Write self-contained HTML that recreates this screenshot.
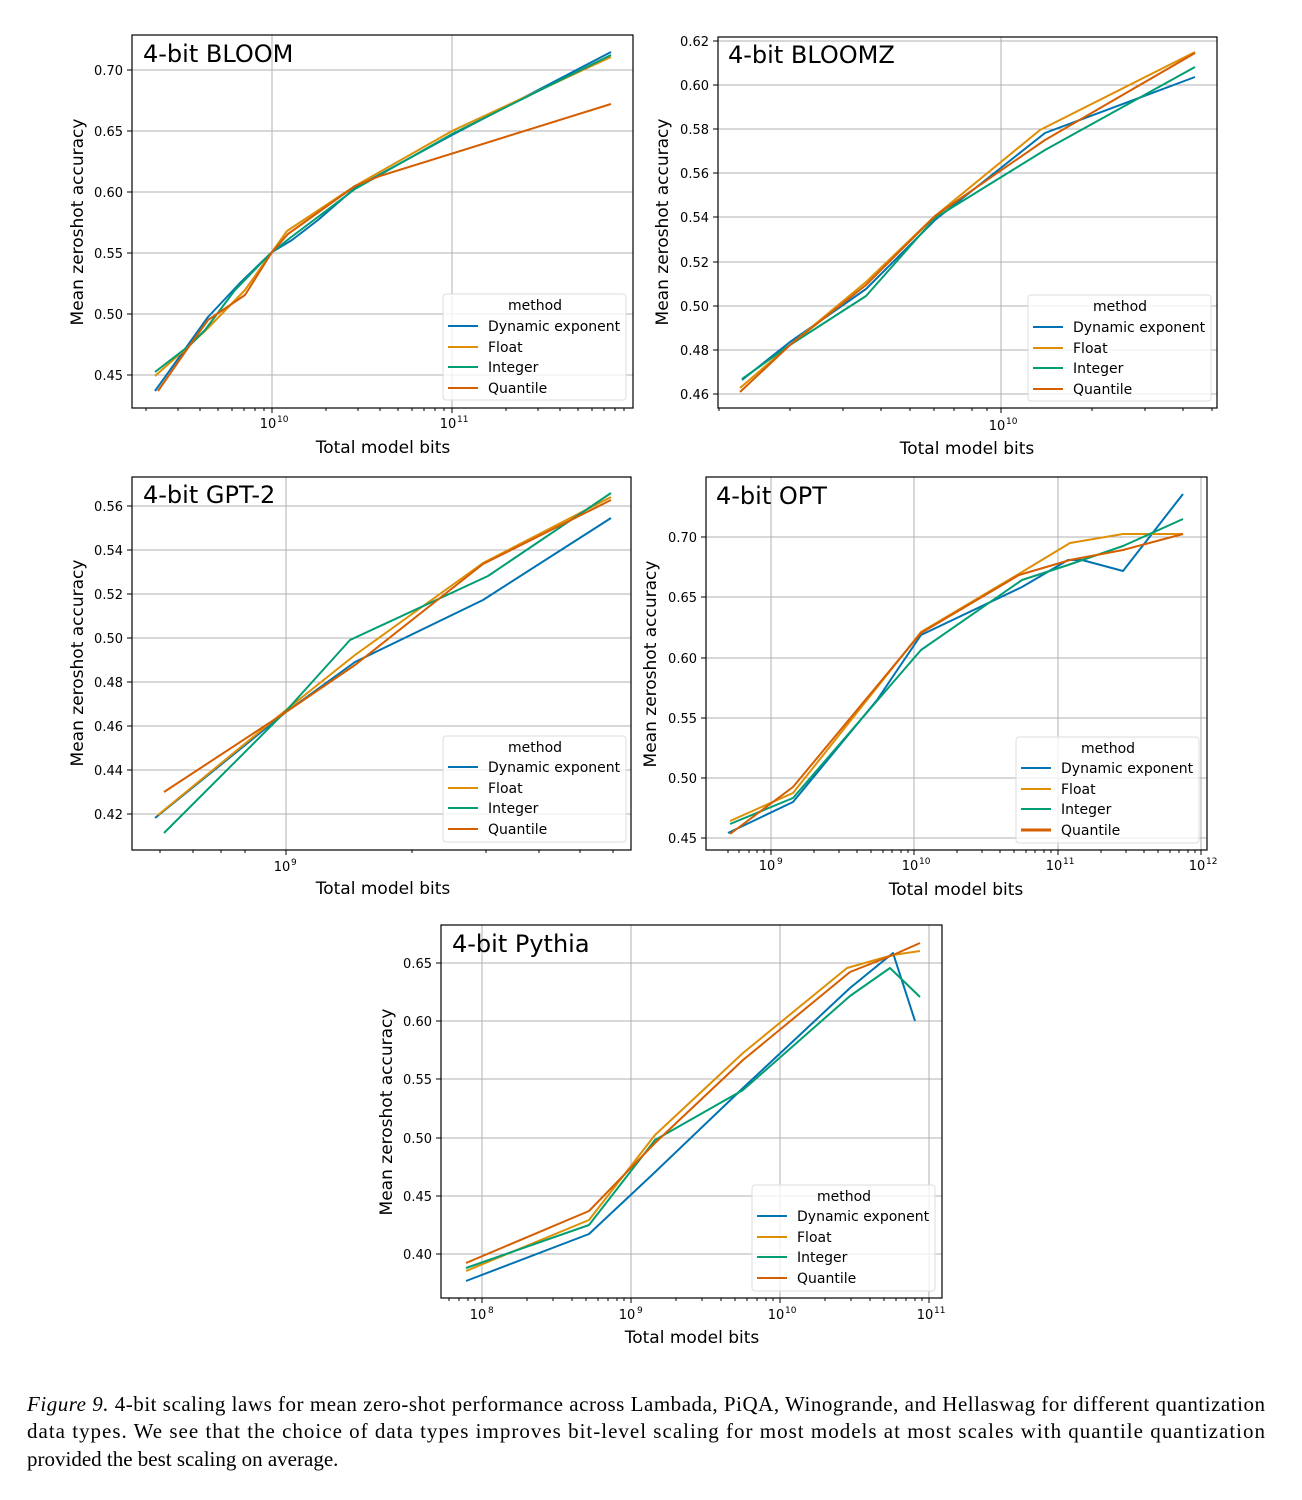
<!DOCTYPE html>
<html><head><meta charset="utf-8"><style>
body{margin:0;background:#fff;}
svg{display:block;font-family:"DejaVu Sans",sans-serif;}
.g{stroke:#b0b0b0;stroke-width:1;}
.ax{fill:none;stroke:#000;stroke-width:1.2;}
.t{font-size:13px;fill:#000;}
.ti{font-size:24px;}
.al{font-size:17px;}
.l{fill:none;stroke-width:2;stroke-linejoin:round;}
.b{stroke:#0173b2}.o{stroke:#de8f05}.gr{stroke:#029e73}.q{stroke:#d55e00}
.lg{fill:#fff;fill-opacity:.8;stroke:#ddd;}
.lt{font-size:14px;}
.tk{stroke:#000;stroke-width:1;fill:none;}
.cap{font-family:"Liberation Serif",serif;font-size:21px;}
</style></head><body>
<svg width="1302" height="1500" viewBox="0 0 1302 1500">
<!-- ========== BLOOM ========== -->
<g>
<path class="g" d="M132 70H633M132 131H633M132 192H633M132 253H633M132 314H633M132 375H633M272 35V408M452 35V408"/>
<polyline class="l b" points="155,391 208,317 240,283 272,252 292,240 318,220 355,188 452,135 611,52"/>
<polyline class="l o" points="155,376 190,345 208,328 245,290 272,252 287,231 355,186 452,131 611,57"/>
<polyline class="l gr" points="155,372 190,345 205,330 235,290 272,252 290,238 355,189 452,134 611,55"/>
<polyline class="l q" points="158,391 190,345 208,320 245,295 272,252 288,234 355,186 380,176 611,104"/>
<rect class="ax" x="132" y="35" width="501" height="373"/>
<path class="tk" d="M272 408v5M452 408v5M146 408v3M178 408v3M200 408v3M218 408v3M232 408v3M244 408v3M255 408v3M264 408v3M326 408v3M358 408v3M380 408v3M398 408v3M412 408v3M424 408v3M435 408v3M444 408v3M506 408v3M538 408v3M560 408v3M578 408v3M592 408v3M604 408v3M615 408v3M624 408v3M127 70h5M127 131h5M127 192h5M127 253h5M127 314h5M127 375h5"/>
<g class="t" text-anchor="end"><text x="123" y="75">0.70</text><text x="123" y="136">0.65</text><text x="123" y="197">0.60</text><text x="123" y="258">0.55</text><text x="123" y="319">0.50</text><text x="123" y="380">0.45</text></g>
<g class="t" text-anchor="middle"><text x="268" y="428">10</text><text x="448" y="428">10</text></g>
<g style="font-size:9px"><text x="277" y="422">10</text><text x="457" y="422">11</text></g>
<text class="ti" x="143" y="62">4-bit BLOOM</text>
<text class="al" x="383" y="453" text-anchor="middle">Total model bits</text>
<text class="al" transform="translate(83,222) rotate(-90)" text-anchor="middle">Mean zeroshot accuracy</text>
<rect class="lg" x="443" y="294" width="183" height="106" rx="3"/>
<text class="lt" x="535" y="310" text-anchor="middle">method</text>
<path class="l b" d="M448 326h30"/><path class="l o" d="M448 347h30"/><path class="l gr" d="M448 367h30"/><path class="l q" d="M448 388h30"/>
<text class="lt" x="488" y="331">Dynamic exponent</text><text class="lt" x="488" y="352">Float</text><text class="lt" x="488" y="372">Integer</text><text class="lt" x="488" y="393">Quantile</text>
</g>
<!-- ========== BLOOMZ ========== -->
<g>
<path class="g" d="M718 41H1217M718 85H1217M718 129H1217M718 173H1217M718 217H1217M718 262H1217M718 306H1217M718 350H1217M718 394H1217M1001 37V408"/>
<polyline class="l b" points="742,380 790,342 866,289 935,220 1045,133 1195,77"/>
<polyline class="l o" points="740,388 790,345 866,282 935,216 1040,130 1195,52"/>
<polyline class="l gr" points="742,379 790,345 866,296 935,218 1045,150 1195,67"/>
<polyline class="l q" points="740,392 790,345 866,285 935,216 1045,140 1195,53"/>
<rect class="ax" x="718" y="37" width="499" height="371"/>
<path class="tk" d="M1001 408v5M719 408v3M790 408v3M843 408v3M881 408v3M910 408v3M934 408v3M954 408v3M972 408v3M987 408v3M1092 408v3M1145 408v3M1183 408v3M1212 408v3M713 41h5M713 85h5M713 129h5M713 173h5M713 217h5M713 262h5M713 306h5M713 350h5M713 394h5"/>
<g class="t" text-anchor="end"><text x="709" y="46">0.62</text><text x="709" y="90">0.60</text><text x="709" y="134">0.58</text><text x="709" y="178">0.56</text><text x="709" y="222">0.54</text><text x="709" y="267">0.52</text><text x="709" y="311">0.50</text><text x="709" y="355">0.48</text><text x="709" y="399">0.46</text></g>
<text class="t" x="997" y="430" text-anchor="middle">10</text><text x="1006" y="424" style="font-size:9px">10</text>
<text class="ti" x="728" y="63">4-bit BLOOMZ</text>
<text class="al" x="967" y="454" text-anchor="middle">Total model bits</text>
<text class="al" transform="translate(668,222) rotate(-90)" text-anchor="middle">Mean zeroshot accuracy</text>
<rect class="lg" x="1028" y="295" width="183" height="106" rx="3"/>
<text class="lt" x="1120" y="311" text-anchor="middle">method</text>
<path class="l b" d="M1033 327h30"/><path class="l o" d="M1033 348h30"/><path class="l gr" d="M1033 368h30"/><path class="l q" d="M1033 389h30"/>
<text class="lt" x="1073" y="332">Dynamic exponent</text><text class="lt" x="1073" y="353">Float</text><text class="lt" x="1073" y="373">Integer</text><text class="lt" x="1073" y="394">Quantile</text>
</g>
<!-- ========== GPT-2 ========== -->
<g>
<path class="g" d="M132 506H631M132 550H631M132 594H631M132 638H631M132 682H631M132 726H631M132 770H631M132 814H631M286 477V850"/>
<polyline class="l b" points="155,818 286,712 355,662 483,600 611,518"/>
<polyline class="l o" points="158,815 286,710 355,655 483,563 611,497"/>
<polyline class="l gr" points="164,833 286,711 350,640 488,576 611,493"/>
<polyline class="l q" points="164,792 286,712 355,665 483,564 611,500"/>
<rect class="ax" x="132" y="477" width="499" height="373"/>
<path class="tk" d="M286 850v5M160 850v3M193 850v3M221 850v3M245 850v3M412 850v3M486 850v3M539 850v3M580 850v3M613 850v3M127 506h5M127 550h5M127 594h5M127 638h5M127 682h5M127 726h5M127 770h5M127 814h5"/>
<g class="t" text-anchor="end"><text x="123" y="511">0.56</text><text x="123" y="555">0.54</text><text x="123" y="599">0.52</text><text x="123" y="643">0.50</text><text x="123" y="687">0.48</text><text x="123" y="731">0.46</text><text x="123" y="775">0.44</text><text x="123" y="819">0.42</text></g>
<text class="t" x="282" y="871" text-anchor="middle">10</text><text x="291" y="865" style="font-size:9px">9</text>
<text class="ti" x="143" y="503">4-bit GPT-2</text>
<text class="al" x="383" y="894" text-anchor="middle">Total model bits</text>
<text class="al" transform="translate(83,663) rotate(-90)" text-anchor="middle">Mean zeroshot accuracy</text>
<rect class="lg" x="443" y="736" width="183" height="106" rx="3"/>
<text class="lt" x="535" y="752" text-anchor="middle">method</text>
<path class="l b" d="M448 767h30"/><path class="l o" d="M448 788h30"/><path class="l gr" d="M448 808h30"/><path class="l q" d="M448 829h30"/>
<text class="lt" x="488" y="772">Dynamic exponent</text><text class="lt" x="488" y="793">Float</text><text class="lt" x="488" y="813">Integer</text><text class="lt" x="488" y="834">Quantile</text>
</g>
<!-- ========== OPT ========== -->
<g>
<path class="g" d="M706 537H1207M706 597H1207M706 658H1207M706 718H1207M706 778H1207M706 838H1207M771 477V850M914 477V850M1058 477V850M1201 477V850"/>
<polyline class="l b" points="728,833 793,802 877,700 921,635 1022,587 1068,560 1082,560 1123,571 1183,494"/>
<polyline class="l o" points="730,821 793,793 921,632 1017,575 1070,543 1123,534 1183,534"/>
<polyline class="l gr" points="730,824 793,798 921,650 1022,580 1068,565 1123,546 1183,519"/>
<polyline class="l q" points="730,834 793,787 921,633 1019,575 1070,560 1123,550 1183,534"/>
<rect class="ax" x="706" y="477" width="501" height="373"/>
<path class="tk" d="M771 850v5M914 850v5M1058 850v5M1201 850v5M728 850v3M739 850v3M749 850v3M757 850v3M764 850v3M814 850v3M839 850v3M857 850v3M871 850v3M883 850v3M892 850v3M901 850v3M908 850v3M957 850v3M982 850v3M1000 850v3M1014 850v3M1026 850v3M1035 850v3M1044 850v3M1051 850v3M1101 850v3M1126 850v3M1144 850v3M1158 850v3M1170 850v3M1179 850v3M1188 850v3M1195 850v3M701 537h5M701 597h5M701 658h5M701 718h5M701 778h5M701 838h5"/>
<g class="t" text-anchor="end"><text x="697" y="542">0.70</text><text x="697" y="602">0.65</text><text x="697" y="663">0.60</text><text x="697" y="723">0.55</text><text x="697" y="783">0.50</text><text x="697" y="843">0.45</text></g>
<g class="t" text-anchor="middle"><text x="767" y="870">10</text><text x="910" y="870">10</text><text x="1054" y="870">10</text><text x="1197" y="870">10</text></g>
<g style="font-size:9px"><text x="777" y="864">9</text><text x="919" y="864">10</text><text x="1063" y="864">11</text><text x="1206" y="864">12</text></g>
<text class="ti" x="716" y="504">4-bit OPT</text>
<text class="al" x="956" y="895" text-anchor="middle">Total model bits</text>
<text class="al" transform="translate(656,664) rotate(-90)" text-anchor="middle">Mean zeroshot accuracy</text>
<rect class="lg" x="1016" y="737" width="183" height="106" rx="3"/>
<text class="lt" x="1108" y="753" text-anchor="middle">method</text>
<path class="l b" d="M1021 768h30"/><path class="l o" d="M1021 789h30"/><path class="l gr" d="M1021 809h30"/><path class="l q" style="stroke-width:3" d="M1021 830h30"/>
<text class="lt" x="1061" y="773">Dynamic exponent</text><text class="lt" x="1061" y="794">Float</text><text class="lt" x="1061" y="814">Integer</text><text class="lt" x="1061" y="835">Quantile</text>
</g>
<!-- ========== Pythia ========== -->
<g>
<path class="g" d="M441 963H942M441 1021H942M441 1079H942M441 1138H942M441 1196H942M441 1254H942M482 925V1298M631 925V1298M780 925V1298M929 925V1298"/>
<polyline class="l b" points="466,1281 589,1234 652,1175 743,1088 850,988 893,953 915,1021"/>
<polyline class="l o" points="466,1271 589,1220 655,1135 743,1053 847,968 893,955 920,951"/>
<polyline class="l gr" points="466,1268 589,1225 655,1140 743,1090 850,996 890,968 920,997"/>
<polyline class="l q" points="466,1263 589,1211 655,1143 743,1060 850,972 893,955 920,943"/>
<rect class="ax" x="441" y="925" width="501" height="373"/>
<path class="tk" d="M482 1298v5M631 1298v5M780 1298v5M929 1298v5M449 1298v3M459 1298v3M468 1298v3M475 1298v3M527 1298v3M553 1298v3M572 1298v3M586 1298v3M598 1298v3M608 1298v3M617 1298v3M624 1298v3M676 1298v3M702 1298v3M721 1298v3M735 1298v3M747 1298v3M757 1298v3M766 1298v3M773 1298v3M825 1298v3M851 1298v3M870 1298v3M884 1298v3M896 1298v3M906 1298v3M915 1298v3M922 1298v3M436 963h5M436 1021h5M436 1079h5M436 1138h5M436 1196h5M436 1254h5"/>
<g class="t" text-anchor="end"><text x="432" y="968">0.65</text><text x="432" y="1026">0.60</text><text x="432" y="1084">0.55</text><text x="432" y="1143">0.50</text><text x="432" y="1201">0.45</text><text x="432" y="1259">0.40</text></g>
<g class="t" text-anchor="middle"><text x="478" y="1319">10</text><text x="627" y="1319">10</text><text x="776" y="1319">10</text><text x="925" y="1319">10</text></g>
<g style="font-size:9px"><text x="488" y="1313">8</text><text x="637" y="1313">9</text><text x="785" y="1313">10</text><text x="934" y="1313">11</text></g>
<text class="ti" x="452" y="952">4-bit Pythia</text>
<text class="al" x="692" y="1343" text-anchor="middle">Total model bits</text>
<text class="al" transform="translate(392,1112) rotate(-90)" text-anchor="middle">Mean zeroshot accuracy</text>
<rect class="lg" x="752" y="1185" width="183" height="106" rx="3"/>
<text class="lt" x="844" y="1201" text-anchor="middle">method</text>
<path class="l b" d="M757 1216h30"/><path class="l o" d="M757 1237h30"/><path class="l gr" d="M757 1257h30"/><path class="l q" d="M757 1278h30"/>
<text class="lt" x="797" y="1221">Dynamic exponent</text><text class="lt" x="797" y="1242">Float</text><text class="lt" x="797" y="1262">Integer</text><text class="lt" x="797" y="1283">Quantile</text>
</g>
<!-- caption -->
<text class="cap" x="27" y="1411" textLength="1238" lengthAdjust="spacing"><tspan font-style="italic">Figure 9.</tspan> 4-bit scaling laws for mean zero-shot performance across Lambada, PiQA, Winogrande, and Hellaswag for different quantization</text>
<text class="cap" x="27" y="1438" textLength="1238" lengthAdjust="spacing">data types. We see that the choice of data types improves bit-level scaling for most models at most scales with quantile quantization</text>
<text class="cap" x="27" y="1466">provided the best scaling on average.</text>
</svg>
</body></html>
